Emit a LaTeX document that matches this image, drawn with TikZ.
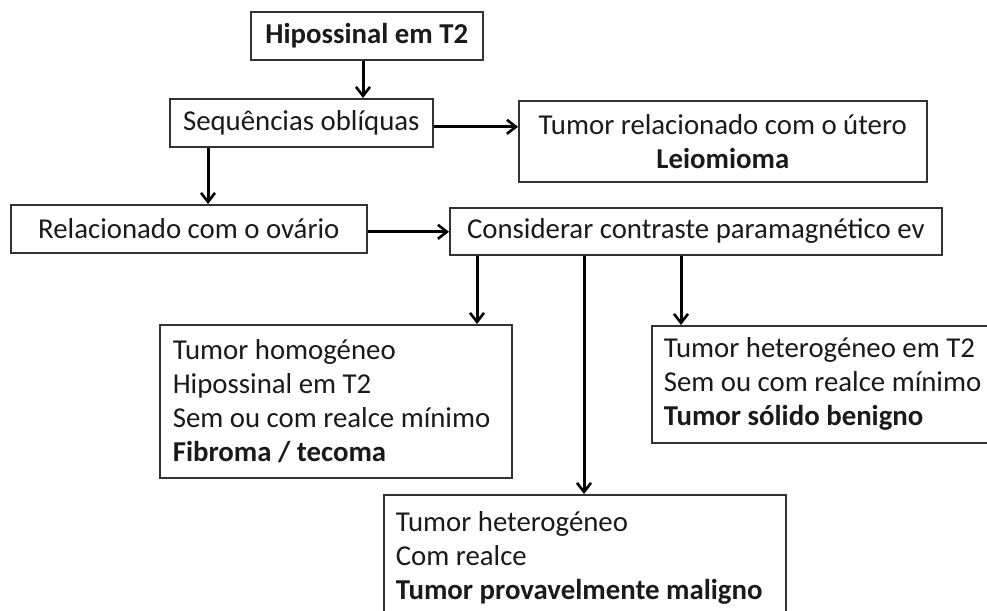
\documentclass[tikz,border=0pt]{standalone}
\usepackage{fontspec}
\setmainfont{Carlito}
\usetikzlibrary{arrows.meta,calc}
\definecolor{ink}{HTML}{1A1A1A}
\definecolor{frame}{HTML}{333333}
\newcommand{\normsp}{\spaceskip=0pt\xspaceskip=0pt\relax}
\tikzset{
  box/.style={draw=frame, line width=1.6pt, fill=white, text=ink, inner sep=0pt,
    font=\fontsize{28.8}{34}\selectfont, anchor=north west},
  arr/.style={draw=black, line width=3pt, -{Straight Barb[length=9pt,width=14pt,line width=2.6pt]}},
}
\begin{document}
\begin{tikzpicture}[x=1pt,y=-1pt]
\useasboundingbox[fill=white] (0,0) rectangle (987,610);
% boxes
\node[box, minimum width=232pt, minimum height=48pt] (b1) at (250,11) {\textbf{Hipossinal em T2}};
\node[box, minimum width=263pt, minimum height=48pt] (b2) at (169,98) {Sequências oblíquas};
\node[box, minimum width=408pt, minimum height=81pt, align=center] (b3) at (518,100)
  {Tumor relacionado com o útero\\\textbf{Leiomioma}};
\node[box, minimum width=356pt, minimum height=48pt] (b4) at (10,204) {Relacionado com o ovário};
\node[box, minimum width=492pt, minimum height=47pt] (b5) at (449,207) {Considerar contraste paramagnético ev};
\node[box, minimum width=352pt, minimum height=153pt, text width=326pt, align=left, inner xsep=13pt] (b6) at (159,324)
  {\normsp Tumor homogéneo\\Hipossinal em T2\\Sem ou com realce mínimo\\\textbf{Fibroma / tecoma}};
\node[box, minimum width=360pt, minimum height=117pt, text width=336pt, align=left, inner xsep=12pt] (b7) at (651,325)
  {\normsp Tumor heterogéneo em T2\\Sem ou com realce mínimo\\\textbf{Tumor sólido benigno}};
\node[box, minimum width=402pt, minimum height=126pt, text width=378pt, align=left, inner xsep=12pt] (b8) at (383,494)
  {\normsp Tumor heterogéneo\\Com realce\\\textbf{Tumor provavelmente maligno}};
% connector start points
\coordinate (s1) at ($(b1.south west)+(113,0)$);
\coordinate (s2) at ($(b2.south west)+(39,0)$);
\coordinate (s6) at ($(b5.south west)+(28,0)$);
\coordinate (s8) at ($(b5.south west)+(135,0)$);
\coordinate (s7) at ($(b5.south west)+(232,0)$);
\coordinate (e23) at ($(b2.east)+(0,4)$);
\coordinate (e45) at ($(b4.east)+(0,3)$);
% connectors
\draw[arr] (s1) -- (s1 |- b2.north);
\draw[arr] (e23) -- (e23 -| b3.west);
\draw[arr] (s2) -- (s2 |- b4.north);
\draw[arr] (e45) -- (e45 -| b5.west);
\draw[arr] (s6) -- (s6 |- b6.north);
\draw[arr] (s8) -- (s8 |- b8.north);
\draw[arr] (s7) -- (s7 |- b7.north);
\end{tikzpicture}
\end{document}
